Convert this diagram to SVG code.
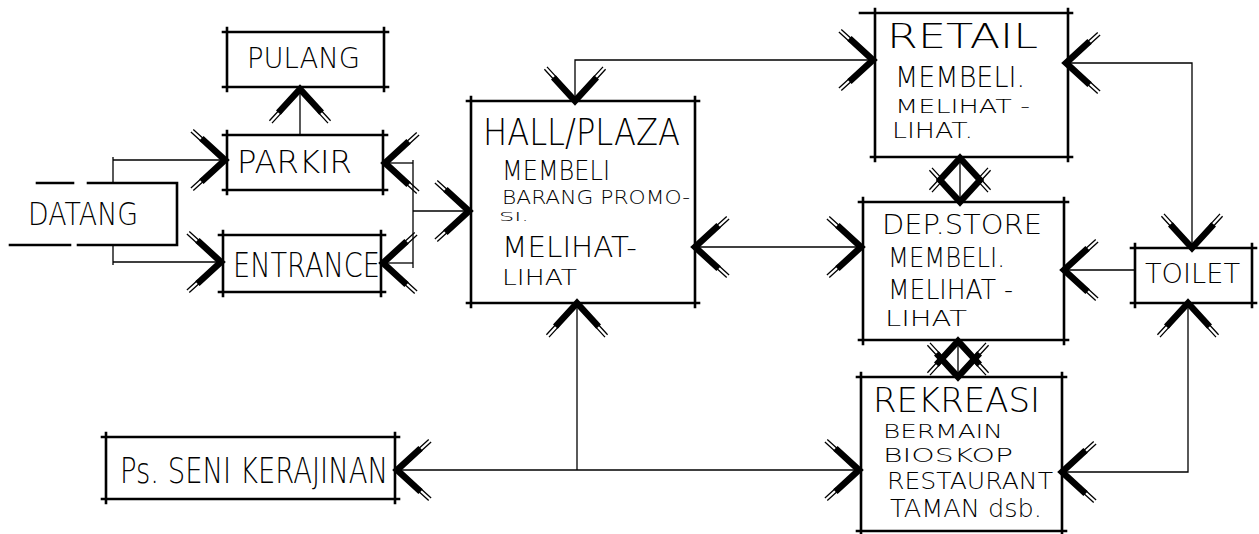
<svg xmlns="http://www.w3.org/2000/svg" width="1259" height="534" viewBox="0 0 1259 534">
<style>
.box{fill:none;stroke:#000;stroke-width:2.6;stroke-linecap:square}
.con{fill:none;stroke:#000;stroke-width:1.3}
.arr{marker-end:url(#ah)}
.arr2{marker-start:url(#ah);marker-end:url(#ah)}
.arrs{marker-start:url(#ah)}
text{font-family:"DejaVu Sans","Liberation Sans",Arial,sans-serif;fill:#000;font-weight:200}
</style>
<defs>
<marker id="ah" markerUnits="userSpaceOnUse" markerWidth="80" markerHeight="80" viewBox="0 0 80 80" refX="40" refY="40" orient="auto-start-reverse" overflow="visible">
<path d="M16.4,18.4 L40,40 L16.4,61.6" fill="none" stroke="#000" stroke-width="6.5" stroke-linejoin="miter"/>
<path d="M19.3,19.5 L8.3,9.4 M16.9,22.1 L5.9,12.0 M19.3,60.5 L8.3,70.6 M16.9,57.9 L5.9,68.0" fill="none" stroke="#000" stroke-width="1.3"/>
</marker>
</defs>
<rect width="1259" height="534" fill="#fff"/>

<g id="connectors">
<path class="con arr" d="M113,183 V157 M113,160 H225"/>
<path class="con arr" d="M113,245 V265 M113,262 H221"/>
<path class="con arr" d="M300,135 V89"/>
<path class="con" d="M413,160 V268"/>
<path class="con arr" d="M413,163 H385"/>
<path class="con arr" d="M413,263 H383"/>
<path class="con arr" d="M413,211 H469"/>
<path class="con arr2" d="M575,101 V60 H873"/>
<path class="con arr2" d="M695,247 H861"/>
<path class="con arrs" d="M577,303 V470"/>
<path class="con arr2" d="M397,470 H859"/>
<path class="con arr2" d="M1066,63 H1192 V248"/>
<path class="con arr" d="M1135,270 H1064"/>
<path class="con arr2" d="M1188,303 V472 H1062"/>
<path class="con arr2" d="M960,158 V202"/>
<path class="con arr2" d="M958,341 V377"/>
</g>

<g id="datang">
<path class="box" d="M37,183 H73 M88,183 H177 V245 M10,245 H70 M78,245 H177"/>
<text x="28" y="225" font-size="32" textLength="110" lengthAdjust="spacingAndGlyphs">DATANG</text>
</g>

<g id="pulang">
<path class="box" d="M223,32 H388 M227,28 V91 M384,28 V91 M223,87 H388"/>
<text x="247" y="68" font-size="28" textLength="113" lengthAdjust="spacingAndGlyphs">PULANG</text>
</g>

<g id="parkir">
<path class="box" d="M223,135 H387 M227,131 V194 M383,131 V194 M223,190 H387"/>
<text x="237" y="173" font-size="32" textLength="115" lengthAdjust="spacingAndGlyphs">PARKIR</text>
</g>

<g id="entrance">
<path class="box" d="M219,235 H385 M223,231 V296 M381,231 V296 M219,292 H385"/>
<text x="233" y="277" font-size="34" textLength="147" lengthAdjust="spacingAndGlyphs">ENTRANCE</text>
</g>

<g id="hall">
<path class="box" d="M467,101 H699 M471,97 V307 M695,97 V307 M467,303 H699"/>
<text x="483" y="145" font-size="38" textLength="197" lengthAdjust="spacingAndGlyphs">HALL/PLAZA</text>
<text x="502" y="180" font-size="26" textLength="108" lengthAdjust="spacingAndGlyphs">MEMBELI</text>
<text x="502" y="204" font-size="19" textLength="188" lengthAdjust="spacingAndGlyphs">BARANG PROMO-</text>
<text x="499" y="221" font-size="13" textLength="30" lengthAdjust="spacingAndGlyphs">SI.</text>
<text x="502" y="257" font-size="28" textLength="135" lengthAdjust="spacingAndGlyphs">MELIHAT-</text>
<text x="502" y="285" font-size="22" textLength="75" lengthAdjust="spacingAndGlyphs">LIHAT</text>
</g>

<g id="retail">
<path class="box" d="M860,13 H1072 M875,9 V161 M1068,9 V161 M871,157 H1072"/>
<text x="887" y="48" font-size="34" textLength="151" lengthAdjust="spacingAndGlyphs">RETAIL</text>
<text x="895" y="87" font-size="28" textLength="130" lengthAdjust="spacingAndGlyphs">MEMBELI.</text>
<text x="895" y="113" font-size="20" textLength="135" lengthAdjust="spacingAndGlyphs">MELIHAT -</text>
<text x="892" y="138" font-size="21" textLength="81" lengthAdjust="spacingAndGlyphs">LIHAT.</text>
</g>

<g id="depstore">
<path class="box" d="M859,202 H1068 M863,198 V344 M1064,198 V344 M859,340 H1068"/>
<text x="882" y="234" font-size="26" textLength="160" lengthAdjust="spacingAndGlyphs">DEP.STORE</text>
<text x="888" y="267" font-size="26" textLength="117" lengthAdjust="spacingAndGlyphs">MEMBELI.</text>
<text x="888" y="299" font-size="26" textLength="125" lengthAdjust="spacingAndGlyphs">MELIHAT -</text>
<text x="885" y="326" font-size="22" textLength="82" lengthAdjust="spacingAndGlyphs">LIHAT</text>
</g>

<g id="rekreasi">
<path class="box" d="M857,377 H1066 M861,373 V533 M1062,373 V533 M857,531 H1066"/>
<text x="873" y="412" font-size="34" textLength="167" lengthAdjust="spacingAndGlyphs">REKREASI</text>
<text x="883" y="438" font-size="19" textLength="120" lengthAdjust="spacingAndGlyphs">BERMAIN</text>
<text x="883" y="462" font-size="20" textLength="130" lengthAdjust="spacingAndGlyphs">BIOSKOP</text>
<text x="887" y="489" font-size="23" textLength="166" lengthAdjust="spacingAndGlyphs">RESTAURANT</text>
<text x="890" y="517" font-size="24" textLength="152" lengthAdjust="spacingAndGlyphs">TAMAN dsb.</text>
</g>

<g id="toilet">
<path class="box" d="M1131,248 H1256 M1135,244 V307 M1252,244 V307 M1131,303 H1256"/>
<text x="1145" y="283" font-size="27" textLength="95" lengthAdjust="spacingAndGlyphs">TOILET</text>
</g>

<g id="seni">
<path class="box" d="M102,437 H399 M106,433 V503 M395,433 V503 M102,499 H399"/>
<text x="120" y="483" font-size="36" textLength="268" lengthAdjust="spacingAndGlyphs">Ps. SENI KERAJINAN</text>
</g>
</svg>
